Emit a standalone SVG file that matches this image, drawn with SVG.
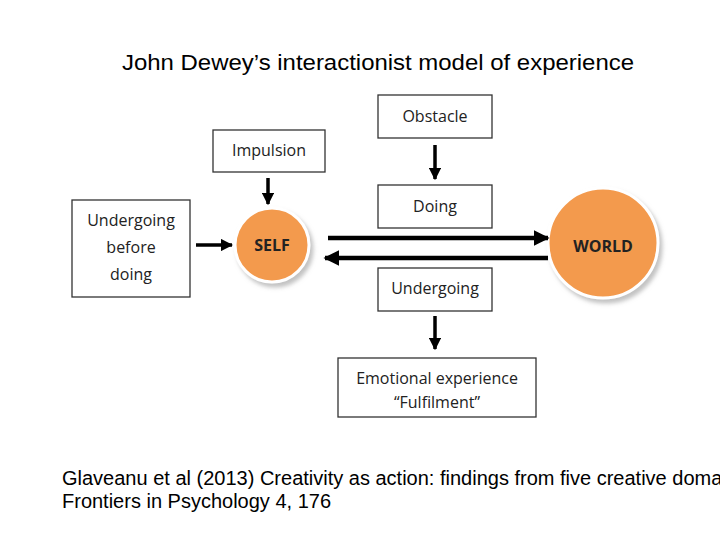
<svg xmlns="http://www.w3.org/2000/svg" width="720" height="540" viewBox="0 0 720 540">
<defs>
<style>
.box{fill:#fff;stroke:#333;stroke-width:1.3}
.lbl{font-family:"Open Sans","Liberation Sans",sans-serif;font-size:16px;fill:#222;text-anchor:middle}
.cl{font-family:"Open Sans","Liberation Sans",sans-serif;font-size:16px;font-weight:bold;fill:#222;text-anchor:middle}
.cap{font-family:"Liberation Sans",Arial,sans-serif;font-size:20px;fill:#000}
.ln{stroke:#000;fill:none}
</style>
<marker id="ah" viewBox="0 0 10 10" refX="9" refY="5" markerWidth="3.5" markerHeight="3.5" orient="auto" markerUnits="strokeWidth"><path d="M0,0L10,5L0,10z" fill="#000"/></marker>
<filter id="sh" x="-20%" y="-20%" width="150%" height="150%"><feDropShadow dx="3" dy="4" stdDeviation="2" flood-color="#999" flood-opacity="0.6"/></filter>
</defs>
<rect width="720" height="540" fill="#fff"/>
<text x="122" y="70" font-family="Liberation Sans,Arial,sans-serif" font-size="22" textLength="512" lengthAdjust="spacingAndGlyphs">John Dewey’s interactionist model of experience</text>
<g id="obstacle"><rect class="box" x="378" y="95" width="114" height="43"/><text class="lbl" x="435" y="122">Obstacle</text></g>
<g id="impulsion"><rect class="box" x="213" y="130" width="112" height="42"/><text class="lbl" x="269" y="156">Impulsion</text></g>
<g id="before"><rect class="box" x="72" y="200" width="118" height="97"/><text class="lbl" x="131" y="226">Undergoing</text><text class="lbl" x="131" y="253">before</text><text class="lbl" x="131" y="280">doing</text></g>
<g id="doing"><rect class="box" x="378" y="185" width="114" height="43"/><text class="lbl" x="435" y="212">Doing</text></g>
<g id="undergoing"><rect class="box" x="378" y="268" width="114" height="43"/><text class="lbl" x="435" y="294">Undergoing</text></g>
<g id="emotional"><rect class="box" x="338" y="358" width="198" height="59"/><text class="lbl" x="437" y="384">Emotional experience</text><text class="lbl" x="437" y="408">“Fulfilment”</text></g>
<g id="self"><circle cx="272" cy="245" r="37" fill="#f39a4e" stroke="#fff" stroke-width="3" filter="url(#sh)"/><text class="cl" x="272" y="251">SELF</text></g>
<g id="world"><circle cx="603" cy="243" r="55" fill="#f39a4e" stroke="#fff" stroke-width="3" filter="url(#sh)"/><text class="cl" x="603" y="252">WORLD</text></g>
<g id="connectors">
<line class="ln" x1="268" y1="178" x2="268" y2="204" stroke-width="3.5" marker-end="url(#ah)"/>
<line class="ln" x1="435" y1="145" x2="435" y2="179" stroke-width="3.5" marker-end="url(#ah)"/>
<line class="ln" x1="435" y1="316" x2="435" y2="349" stroke-width="3.5" marker-end="url(#ah)"/>
<line class="ln" x1="196" y1="245" x2="232" y2="245" stroke-width="3.5" marker-end="url(#ah)"/>
<line class="ln" x1="328" y1="238" x2="548" y2="238" stroke-width="4.5" marker-end="url(#ah)"/>
<line class="ln" x1="548" y1="258" x2="325" y2="258" stroke-width="4.5" marker-end="url(#ah)"/>
</g>
<text class="cap" x="62" y="485">Glaveanu et al (2013) Creativity as action: findings from five creative domains</text>
<text class="cap" x="62" y="508">Frontiers in Psychology 4, 176</text>
</svg>
